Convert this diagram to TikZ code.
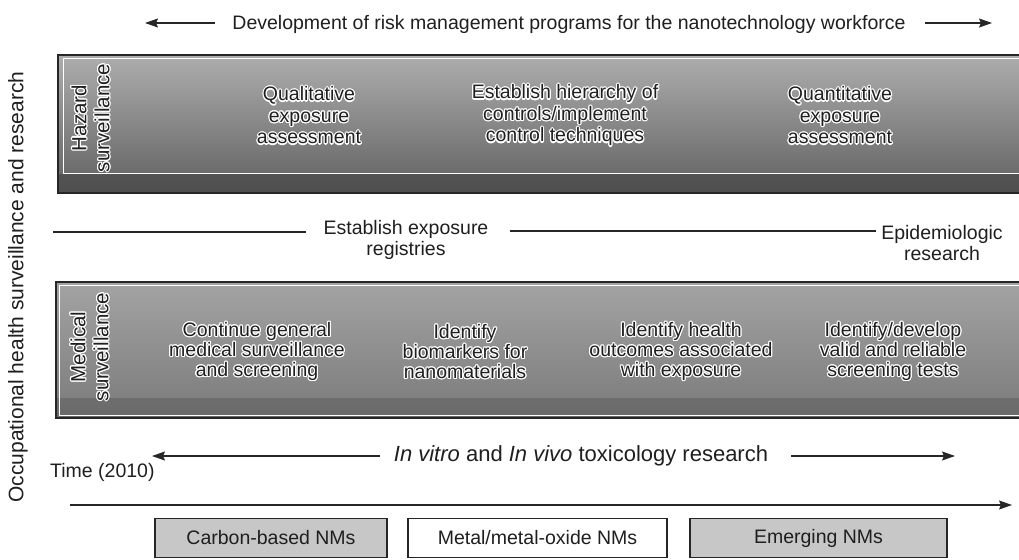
\documentclass[tikz,border=0pt]{standalone}
\usepackage{fontspec}
\setmainfont{Liberation Sans}
\usepackage{contour}
\contourlength{1.1pt}
\contournumber{16}
\usetikzlibrary{arrows.meta}
\newcommand{\wt}[1]{\contour{white}{#1}}
\begin{document}
\begin{tikzpicture}[x=1pt,y=-1pt,
  txt/.style={font=\fontsize{19.5}{21.5}\selectfont, inner sep=0pt, align=center, text=black!88},
  lab/.style={font=\fontsize{20.5}{23}\selectfont, inner sep=0pt, align=center, text=black!88, rotate=90},
  arr/.style={-{Stealth[length=13pt,width=9pt,inset=2pt]}, line width=1.4pt, draw=black!85},
  plain/.style={line width=1.3pt, draw=black!85},
  nm/.style={draw=black!85, line width=1.2pt, minimum height=39pt, inner sep=0pt,
             font=\fontsize{19.5}{21.5}\selectfont, text=black!88}]
\useasboundingbox (0,0) rectangle (1019,559);
\fill[white] (0,0) rectangle (1019,559);

% ---- top header
\node[txt, anchor=base] (dev) at (569,30) {Development of risk management programs for the nanotechnology workforce};
\coordinate (devLs) at (215,23);
\coordinate (devL) at (145,23);
\coordinate (devRs) at (925,23);
\coordinate (devR) at (992,23);
\draw[arr] (devLs) -- (devL);
\draw[arr] (devRs) -- (devR);

% ---- vertical label
\node[font=\fontsize{21}{24}\selectfont, rotate=90, inner sep=0pt, text=black!88] (occ) at (18,287)
  {Occupational health surveillance and research};

% ---- hazard surveillance box
\shade[top color=black!32, bottom color=black!62] (58,55) rectangle (1021,193);
\fill[black!75, opacity=.55] (58,174) rectangle (1021,193);
\draw[white, line width=1pt] (63,59) rectangle (1023,173);
\draw[line width=1.2pt, black!85] (58,55) rectangle (1023,193);
\draw[line width=2.4pt, black!85] (58,55) -- (1021,55);
\node[lab] (haz) at (91,118) {\wt{Hazard}\\\wt{surveillance}};
\node[txt] (qual) at (309,116) {\wt{Qualitative}\\\wt{exposure}\\\wt{assessment}};
\node[txt] (hier) at (565,116) {\wt{Establish hierarchy of}\\\wt{controls/implement}\\\wt{control techniques}};
\node[txt] (quan) at (840,116) {\wt{Quantitative}\\\wt{exposure}\\\wt{assessment}};

% ---- middle row
\coordinate (regL) at (53,232);
\coordinate (mid) at (0,231);
\node[txt] (reg) at (406,240) {Establish exposure\\registries};
\node[txt] (epi) at (942,243) {Epidemiologic\\research};
\draw[plain, shorten >=17pt] (regL) -- (regL -| reg.west);
\draw[plain, shorten <=21pt, shorten >=5pt] (reg.east |- mid) -- (epi.west |- mid);

% ---- medical surveillance box
\shade[top color=black!36, bottom color=black!52] (56,282) rectangle (1021,418);
\fill[black!70, opacity=.35] (56,398) rectangle (1021,418);
\draw[white, line width=1pt] (59,285) rectangle (1023,415);
\draw[line width=1.2pt, black!85] (56,282) rectangle (1023,418);
\draw[line width=2.2pt, black!85] (56,282) -- (1021,282);
\draw[line width=2.2pt, black!85] (56,418) -- (1021,418);
\node[lab] (med) at (90,347) {\wt{Medical}\\\wt{surveillance}};
\node[txt, font=\fontsize{19.5}{20}\selectfont] (cont) at (257,352) {\wt{Continue general}\\\wt{medical surveillance}\\\wt{and screening}};
\node[txt, font=\fontsize{19.5}{20}\selectfont] (bio) at (465,352) {\wt{Identify}\\\wt{biomarkers for}\\\wt{nanomaterials}};
\node[txt, font=\fontsize{19.5}{20}\selectfont] (out) at (681,352) {\wt{Identify health}\\\wt{outcomes associated}\\\wt{with exposure}};
\node[txt, font=\fontsize{19.5}{20}\selectfont] (scr) at (893,352) {\wt{Identify/develop}\\\wt{valid and reliable}\\\wt{screening tests}};

% ---- toxicology research
\node[txt, font=\fontsize{22}{24}\selectfont] (vit) at (581,456) {\textit{In vitro} and \textit{In vivo} toxicology research};
\coordinate (vitL) at (152,456);
\coordinate (vitR) at (955,456);
\draw[arr, shorten <=14pt] (vit.west) -- (vitL);
\draw[arr, shorten <=23pt] (vit.east) -- (vitR);

% ---- time axis
\node[txt, anchor=base west] (time) at (50,477) {Time (2010)};
\coordinate (t0) at (70,505);
\coordinate (t1) at (1012,505);
\draw[arr, line width=1.2pt] (t0) -- (t1);

% ---- nanomaterial boxes
\node[nm, fill=black!22, minimum width=232pt] (cb) at (271,538) {Carbon-based NMs};
\node[nm, fill=white, minimum width=259pt] (mm) at (537.5,538) {Metal/metal-oxide NMs};
\node[nm, fill=black!22, minimum width=257pt] (em) at (818.5,538) {Emerging NMs};
\end{tikzpicture}
\end{document}
